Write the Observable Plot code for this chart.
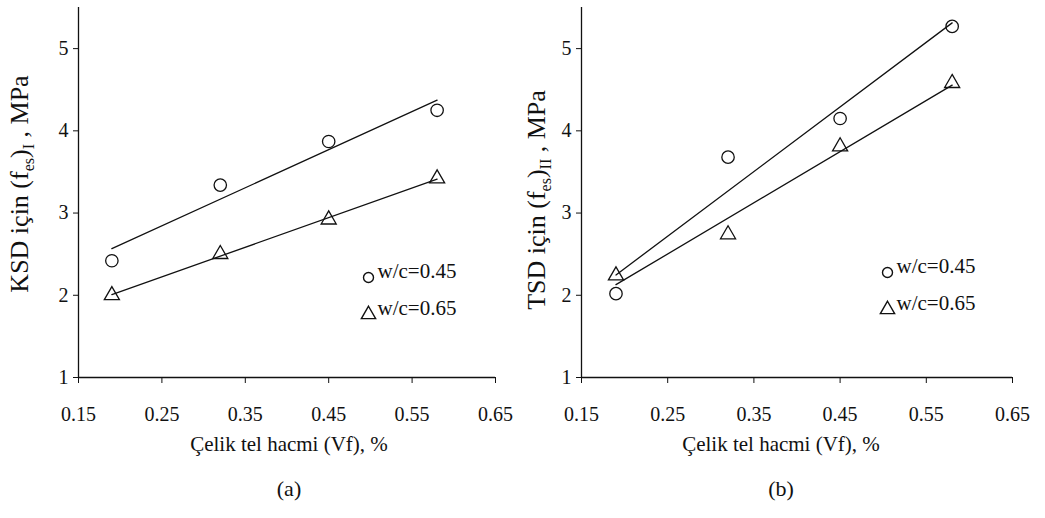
<!DOCTYPE html>
<html>
<head>
<meta charset="utf-8">
<script src="https://cdn.jsdelivr.net/npm/d3@7"></script>
<script src="https://cdn.jsdelivr.net/npm/@observablehq/plot@0.6"></script>
<style>
  html, body { margin: 0; padding: 0; background: white; }
  #wrap { display: flex; flex-direction: row; width: 1045px; height: 518px; }
  svg { display: block; }
</style>
</head>
<body>
<div id="wrap"></div>
<script>
// ---- data ----
const vf = [0.19, 0.32, 0.45, 0.58];               // Çelik tel hacmi (Vf), %
const ksd045 = [2.42, 3.34, 3.87, 4.25];           // (a) w/c=0.45
const ksd065 = [2.00, 2.50, 2.92, 3.42];           // (a) w/c=0.65
const tsd045 = [2.02, 3.68, 4.15, 5.27];           // (b) w/c=0.45
const tsd065 = [2.24, 2.74, 3.81, 4.58];           // (b) w/c=0.65
const xTicks = [0.15, 0.25, 0.35, 0.45, 0.55, 0.65];
const yTicks = [1, 2, 3, 4, 5];
const seriesLabels = ["w/c=0.45", "w/c=0.65"];
const xTitle = "Çelik tel hacmi (Vf), %";
const captions = ["(a)", "(b)"];

const FONT = "Liberation Serif, Times New Roman, serif";

function panel(opts) {
  const d45 = vf.map((x, i) => ({x, y: opts.v45[i]}));
  const d65 = vf.map((x, i) => ({x, y: opts.v65[i]}));
  const svg = Plot.plot({
    width: opts.width,
    height: 518,
    marginTop: 7,
    marginBottom: 141,
    marginLeft: opts.marginLeft,
    marginRight: opts.marginRight,
    style: {fontFamily: FONT, fontSize: "20px", background: "white", color: "#111"},
    x: {domain: [0.15, 0.65]},
    y: {domain: [1, 5.5]},
    marks: [
      Plot.axisX({ticks: xTicks, tickSize: 6, tickPadding: 23, tickFormat: d => d.toFixed(2), label: null, fontSize: 20}),
      Plot.axisY({ticks: yTicks, tickSize: 5, tickPadding: 5, tickFormat: d => String(d), label: null, fontSize: 20}),
      Plot.ruleX([0.15], {stroke: "#111", strokeWidth: 1.3}),
      Plot.ruleY([1], {stroke: "#111", strokeWidth: 1.3}),
      Plot.linearRegressionY(d45, {x: "x", y: "y", ci: 0, stroke: "#111", strokeWidth: 1.3}),
      Plot.linearRegressionY(d65, {x: "x", y: "y", ci: 0, stroke: "#111", strokeWidth: 1.3}),
      Plot.dot(d45, {x: "x", y: "y", symbol: "circle", r: 6.2, stroke: "#111", strokeWidth: 1.3, fill: "none"}),
      Plot.dot(d65, {x: "x", y: "y", symbol: "triangle", r: 5.6, stroke: "#111", strokeWidth: 1.3, fill: "none"}),
      // legend
      Plot.dot([seriesLabels[0]], {frameAnchor: "bottom-right", dx: opts.legDx, dy: opts.legDy, symbol: "circle", r: 5, stroke: "#111", strokeWidth: 1.4, fill: "none"}),
      Plot.dot([seriesLabels[1]], {frameAnchor: "bottom-right", dx: opts.legDx, dy: opts.legDy + 37, symbol: "triangle", r: 5.3, stroke: "#111", strokeWidth: 1.4, fill: "none"}),
      Plot.text([seriesLabels[0]], {frameAnchor: "bottom-right", dx: opts.legDx + 9, dy: opts.legDy, textAnchor: "start", fontSize: 21, fill: "#111"}),
      Plot.text([seriesLabels[1]], {frameAnchor: "bottom-right", dx: opts.legDx + 9, dy: opts.legDy + 37, textAnchor: "start", fontSize: 21, fill: "#111"}),
      // x title and caption
      Plot.text([xTitle], {frameAnchor: "bottom", dx: opts.titleDx, dy: 73, fontSize: 21, fill: "#111"}),
      Plot.text([opts.caption], {frameAnchor: "bottom", dx: opts.titleDx, dy: 118, fontSize: 22, fill: "#111"})
    ]
  });
  // rotated y-axis title with subscripts
  const t = d3.select(svg).append("text")
    .attr("transform", `translate(${opts.yTitleX},${opts.yTitleY}) rotate(-90)`)
    .attr("text-anchor", "middle")
    .attr("dominant-baseline", "middle")
    .attr("font-family", FONT)
    .attr("font-size", 26)
    .attr("fill", "#111");
  t.append("tspan").text(opts.yMain + " (f");
  t.append("tspan").attr("baseline-shift", "sub").attr("font-size", 16).text("es");
  t.append("tspan").text(")");
  t.append("tspan").attr("baseline-shift", "sub").attr("font-size", 16).text(opts.ySub);
  t.append("tspan").text(" , MPa");
  return svg;
}

const wrap = document.getElementById("wrap");
wrap.appendChild(panel({
  v45: ksd045, v65: ksd065, yMain: "KSD için", ySub: "I", caption: captions[0],
  width: 522, marginLeft: 78, marginRight: 27,
  legDx: -127, legDy: -100, titleDx: 2, yTitleX: 22, yTitleY: 184
}));
wrap.appendChild(panel({
  v45: tsd045, v65: tsd065, yMain: "TSD için", ySub: "II", caption: captions[1],
  width: 523, marginLeft: 59, marginRight: 33,
  legDx: -125, legDy: -105, titleDx: -16, yTitleX: 17, yTitleY: 200
}));
</script>
</body>
</html>
